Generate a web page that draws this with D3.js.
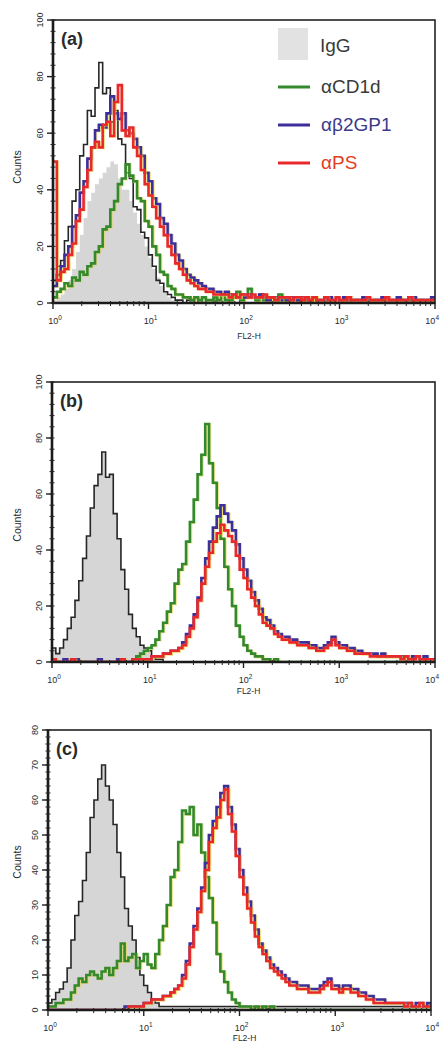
<!DOCTYPE html>
<html><head><meta charset="utf-8">
<script src="https://cdn.jsdelivr.net/npm/d3@7"></script>
<style>html,body{margin:0;padding:0;background:#fff;}svg{display:block;}</style>
</head><body>
<svg id="c" width="440" height="1044"></svg>
<script>
// channel positions (log10 of FL2-H), bins of 0.04 decade
const binLog = d3.range(101).map(i => +(i * 0.04).toFixed(2));
const xTicks = [1, 10, 100, 1000, 10000];
const xTickExp = ["0", "1", "2", "3", "4"];
const legendLabels = ["IgG", "\u03B1CD1d", "\u03B1\u03B22GP1", "\u03B1PS"];
const panelLabels = ["(a)", "(b)", "(c)"];
const yTicksAB = [0, 20, 40, 60, 80, 100];
const yTicksC = [0, 10, 20, 30, 40, 50, 60, 70, 80];

// ---- panel (a) ----
const aIgG = [1,2,3,5,8,12,18,24,30,36, 39,42,44,46,48,50,49,44,40,40, 36,32,28,24,20,16,12,9,6,4,
  2,1,1,0,0,0,0,0,0,0, 0,0,0,0,0,0,0,0,0,0, 0,0,0,0,0,0,0,0,0,0, 0,0,0,0,0,0,0,0,0,0,
  0,0,0,0,0,0,0,0,0,0, 0,0,0,0,0,0,0,0,0,0, 0,0,0,0,0,0,0,0,0,0, 0];
const aBlack = [8,13,15,22,27,36,40,52,56,68, 66,76,85,74,76,64,68,58,56,46, 44,34,33,25,23,17,13,8,7,4,
  3,2,1,1,0,1,0,0,1,0, 0,0,1,0,0,0,0,0,0,0, 0,0,0,0,0,0,0,0,0,0, 0,0,0,0,0,0,0,0,0,0,
  0,0,0,0,0,0,0,0,0,0, 0,0,0,0,0,0,0,0,0,0, 0,0,0,0,0,0,0,0,0,0, 0];
const aGreen = [2,4,5,7,6,9,8,11,10,13, 14,18,20,26,27,33,36,42,44,49, 45,43,37,36,29,27,20,17,11,10,
  6,5,3,3,2,2,1,2,1,2, 1,1,2,1,3,1,1,2,4,1, 2,5,2,1,3,1,1,2,1,3, 1,1,2,1,1,0,1,1,2,1,
  0,1,1,0,1,1,2,0,1,1, 1,0,1,0,1,1,0,1,1,0, 1,1,0,1,1,0,1,0,1,1, 0];
const aBlue = [6,10,13,17,20,27,31,39,43,51, 55,61,63,62,67,73,67,65,67,61, 60,58,55,52,46,43,37,35,30,28,
  24,21,17,15,12,10,9,8,7,6, 5,5,4,4,3,4,3,3,2,3, 2,3,2,2,3,2,1,2,2,1, 2,1,2,1,1,2,1,1,2,1,
  1,1,2,1,1,1,2,1,1,1, 1,2,1,1,1,1,2,1,1,1, 2,1,1,1,2,1,1,1,1,2, 1];
const aRed = [50,8,11,12,17,21,29,33,41,47, 55,57,55,63,64,59,71,77,61,59, 62,55,52,47,42,38,34,30,27,24,
  20,17,14,12,10,8,7,6,5,5, 4,4,3,3,3,3,2,3,2,3, 3,2,3,2,2,3,2,2,1,2, 2,2,1,2,2,1,2,1,2,1,
  1,2,1,1,2,1,1,2,1,1, 1,1,2,1,1,1,1,2,1,1, 1,1,1,2,1,1,1,1,1,1, 1];

// ---- panel (b) ----
const bIgG = [5,3,5,8,12,16,22,29,37,45, 55,63,67,75,66,67,53,44,33,26, 17,12,9,6,5,4,2,1,1,0,
  0,0,0,0,0,0,0,0,0,0, 0,0,0,0,0,0,0,0,0,0, 0,0,0,0,0,0,0,0,0,0, 0,0,0,0,0,0,0,0,0,0,
  0,0,0,0,0,0,0,0,0,0, 0,0,0,0,0,0,0,0,0,0, 0,0,0,0,0,0,0,0,0,0, 0];
const bGreen = [0,0,0,0,0,0,0,0,0,0, 0,0,0,0,0,0,0,0,0,0, 0,1,2,3,4,5,6,8,11,14,
  18,21,28,33,35,43,50,58,67,74, 85,71,64,55,44,34,26,20,13,9, 6,4,3,2,2,1,1,0,1,0, 0,0,0,0,0,0,0,0,0,0,
  0,0,0,0,0,0,0,0,0,0, 0,0,0,0,0,0,0,0,0,0, 0,0,0,0,0,0,0,0,0,0, 0];
const bBlue = [1,0,0,1,0,0,1,0,0,0, 0,0,1,0,0,0,0,1,0,0, 0,1,0,1,1,1,2,2,2,3,
  3,4,4,5,7,10,13,17,23,30, 37,43,48,52,56,53,50,47,42,37, 33,29,25,22,19,16,15,13,11,10,
  9,9,8,8,7,7,7,6,6,5, 5,6,7,9,7,6,6,5,5,4, 4,3,3,3,3,2,3,2,2,2, 2,2,2,1,2,2,1,2,1,1, 1];
const bRed = [1,0,0,0,0,1,0,0,0,0, 0,0,0,0,0,0,0,0,1,0, 0,1,1,1,1,1,2,2,2,3,
  3,4,4,5,6,9,12,16,22,28, 34,39,43,46,49,47,45,43,38,33, 30,26,23,20,17,14,13,12,10,9,
  8,8,7,7,6,6,6,5,5,4, 4,5,6,8,6,5,5,4,4,3, 3,3,3,2,2,2,2,2,2,2, 2,1,2,1,1,2,1,1,1,1, 1];

// ---- panel (c) ----
const cIgG = [2,3,5,6,8,12,20,27,31,37, 45,55,60,66,70,64,60,53,45,38, 29,24,20,15,10,7,5,3,2,1,
  1,1,1,1,1,1,1,1,1,1, 1,1,1,1,1,1,1,1,1,1, 1,1,1,1,1,1,1,1,1,1, 1,1,1,1,1,1,1,1,1,1,
  1,1,1,1,1,1,1,1,1,1, 1,1,1,1,1,1,1,1,1,1, 1,1,1,1,1,1,1,1,1,1, 1];
const cGreen = [1,1,2,2,3,3,5,7,9,8, 10,11,10,9,11,12,10,12,14,19, 14,15,16,12,14,16,13,12,16,20,
  24,30,38,40,48,57,56,58,50,53, 45,38,32,25,16,11,8,5,3,2, 1,1,1,0,1,0,1,0,1,0, 0,0,0,0,0,0,0,0,0,0,
  0,0,0,0,0,0,0,0,0,0, 0,0,0,0,0,0,0,0,0,0, 0,0,0,0,0,0,0,0,0,0, 0];
const cBlue = [0,0,0,0,0,0,0,0,0,0, 0,0,0,0,0,0,0,0,0,0, 1,1,1,1,1,2,2,3,3,3,
  4,4,5,6,7,10,14,19,24,29, 35,42,50,54,58,62,64,58,53,46, 40,35,31,27,23,19,17,15,13,12,
  11,10,9,8,8,7,7,7,6,6, 6,7,8,9,7,7,6,7,7,6, 6,5,5,4,4,3,3,3,2,2, 2,2,2,2,2,1,2,2,1,2, 1];
const cRed = [0,0,0,0,0,0,0,0,0,0, 0,0,0,0,0,0,0,0,0,0, 0,1,1,1,1,2,2,3,3,3,
  4,4,5,6,7,9,13,18,23,28, 34,40,48,52,55,60,63,56,51,44, 38,33,29,25,21,18,16,14,12,11,
  10,9,8,7,7,6,6,6,5,5, 5,6,7,8,6,6,5,6,6,5, 5,4,4,3,3,2,2,2,2,2, 2,2,2,1,2,1,1,2,1,1, 1];

const colors = {fill: "#d6d6d6", black: "#262626", green: "#33892b", blue: "#3c2f9c", red: "#e8282b"};

const panels = [
  {label: panelLabels[0], top: 20, bottom: 303, left: 53, right: 435, ymax: 100, yTicks: yTicksAB, minor: 4,
   fill: aIgG, black: aBlack, green: aGreen, blue: aBlue, red: aRed, countsY: 167, legend: true, flY: 339},
  {label: panelLabels[1], top: 382, bottom: 662, left: 52, right: 435, ymax: 100, yTicks: yTicksAB, minor: 4,
   fill: bIgG, black: bIgG, green: bGreen, blue: bBlue, red: bRed, countsY: 525, flY: 694},
  {label: panelLabels[2], top: 730, bottom: 1010, left: 48, right: 431, ymax: 80, yTicks: yTicksC, minor: 2,
   fill: cIgG, black: cIgG, green: cGreen, blue: cBlue, red: cRed, countsY: 862, flY: 1041}
];

const svg = d3.select("#c");
const FONT = "Liberation Sans, Arial, sans-serif";

panels.forEach((p, pi) => {
  const x = d3.scaleLog().domain([1, 10000]).range([p.left, p.right]);
  const y = d3.scaleLinear().domain([0, p.ymax]).range([p.bottom, p.top]);
  const g = svg.append("g");
  const cid = "clip" + pi;
  g.append("clipPath").attr("id", cid).append("rect")
    .attr("x", p.left).attr("y", p.top).attr("width", p.right - p.left).attr("height", p.bottom - p.top);
  const plot = g.append("g").attr("clip-path", `url(#${cid})`);

  const pts = arr => arr.map((v, i) => [Math.pow(10, binLog[i]), v]);
  const line = d3.line().x(d => x(d[0])).y(d => y(d[1])).curve(d3.curveStepAfter);
  const area = d3.area().x(d => x(d[0])).y0(y(0)).y1(d => y(d[1])).curve(d3.curveStepAfter);

  plot.append("path").attr("d", area(pts(p.fill))).attr("fill", colors.fill);
  plot.append("path").attr("d", line(pts(p.black))).attr("fill", "none").attr("stroke", colors.black).attr("stroke-width", 1.6);
  [["green", p.green], ["blue", p.blue], ["red", p.red]].forEach(([k, arr]) => {
    plot.append("path").attr("d", line(pts(arr))).attr("fill", "none")
      .attr("stroke", "#e6d34a").attr("stroke-width", 2.8).attr("opacity", 0.6)
      .attr("transform", "translate(1,0.6)");
    plot.append("path").attr("d", line(pts(arr))).attr("fill", "none")
      .attr("stroke", colors[k]).attr("stroke-width", 2.6).attr("stroke-linejoin", "miter");
  });

  // frame
  g.append("rect").attr("x", p.left).attr("y", p.top).attr("width", p.right - p.left).attr("height", p.bottom - p.top)
    .attr("fill", "none").attr("stroke", "#222").attr("stroke-width", 1.6);
  g.append("line").attr("x1", p.left).attr("x2", p.left).attr("y1", p.top).attr("y2", p.bottom + 1)
    .attr("stroke", "#1a1a1a").attr("stroke-width", 2.6);
  g.append("line").attr("x1", p.left - 1).attr("x2", p.right).attr("y1", p.bottom).attr("y2", p.bottom)
    .attr("stroke", "#1a1a1a").attr("stroke-width", 2.6);

  // y ticks
  const minorTicks = d3.range(0, p.ymax + 0.001, p.minor);
  g.selectAll(null).data(minorTicks).enter().append("line")
    .attr("x1", p.left - 2.5).attr("x2", p.left + 2.5).attr("y1", d => y(d)).attr("y2", d => y(d))
    .attr("stroke", "#222").attr("stroke-width", 1);
  g.selectAll(null).data(p.yTicks).enter().append("line")
    .attr("x1", p.left - 6).attr("x2", p.left).attr("y1", d => y(d)).attr("y2", d => y(d))
    .attr("stroke", "#222").attr("stroke-width", 1.4);
  g.selectAll(null).data(p.yTicks).enter().append("text")
    .attr("transform", d => `translate(${p.left - 10},${y(d)}) rotate(-90)`)
    .attr("text-anchor", "middle").attr("font-family", FONT).attr("font-size", 9).attr("fill", "#2a2a2a")
    .text(d => d);
  g.append("text").attr("transform", `translate(21,${p.countsY}) rotate(-90)`)
    .attr("text-anchor", "middle").attr("font-family", FONT).attr("font-size", 10.5).attr("fill", "#2a2a2a").text("Counts");

  // x ticks
  const minorX = [];
  for (let dec = 1; dec < 10000; dec *= 10) for (let k = 2; k <= 9; k++) minorX.push(dec * k);
  g.selectAll(null).data(minorX).enter().append("line")
    .attr("x1", d => x(d)).attr("x2", d => x(d)).attr("y1", p.bottom - 2).attr("y2", p.bottom + 3)
    .attr("stroke", "#222").attr("stroke-width", 1);
  g.selectAll(null).data(xTicks).enter().append("line")
    .attr("x1", d => x(d)).attr("x2", d => x(d)).attr("y1", p.bottom).attr("y2", p.bottom + 6)
    .attr("stroke", "#222").attr("stroke-width", 1.4);
  const xt = g.selectAll(null).data(xTicks).enter().append("text")
    .attr("x", (d, i) => i === xTicks.length - 1 ? 439 : x(d) + 2).attr("y", p.bottom + 21)
    .attr("text-anchor", (d, i) => i === xTicks.length - 1 ? "end" : "middle")
    .attr("font-family", FONT).attr("font-size", 9).attr("fill", "#2a2a2a");
  xt.append("tspan").text("10");
  xt.append("tspan").attr("dy", -4).attr("font-size", 6.5).text((d, i) => xTickExp[i]);
  g.append("text").attr("x", (p.left + p.right) / 2 + 5).attr("y", p.flY).attr("text-anchor", "middle")
    .attr("font-family", FONT).attr("font-size", 8.5).attr("fill", "#2a2a2a").text("FL2-H");

  // panel label
  g.append("text").attr("x", p.left + 8).attr("y", p.top + 25).attr("font-family", FONT)
    .attr("font-weight", "bold").attr("font-size", 18).attr("fill", "#2a2a2a").text(p.label);

  if (p.legend) {
    const lg = g.append("g");
    lg.append("rect").attr("x", 278).attr("y", 28).attr("width", 30).attr("height", 32).attr("fill", "#e2e2e2");
    lg.append("text").attr("x", 320).attr("y", 52).attr("font-family", FONT).attr("font-size", 19)
      .attr("fill", "#3a3a3a").text(legendLabels[0]);
    const items = [{c: colors.green, t: legendLabels[1], ly: 87, tc: "#3a3a3a"},
                   {c: colors.blue, t: legendLabels[2], ly: 125, tc: "#3d3a8a"},
                   {c: colors.red, t: legendLabels[3], ly: 163, tc: "#e2401e"}];
    items.forEach(it => {
      lg.append("line").attr("x1", 278).attr("x2", 310).attr("y1", it.ly).attr("y2", it.ly)
        .attr("stroke", it.c).attr("stroke-width", 3);
      lg.append("text").attr("x", 321).attr("y", it.ly + 6).attr("font-family", FONT).attr("font-size", 19)
        .attr("fill", it.tc).text(it.t);
    });
  }
});
</script>
</body></html>
